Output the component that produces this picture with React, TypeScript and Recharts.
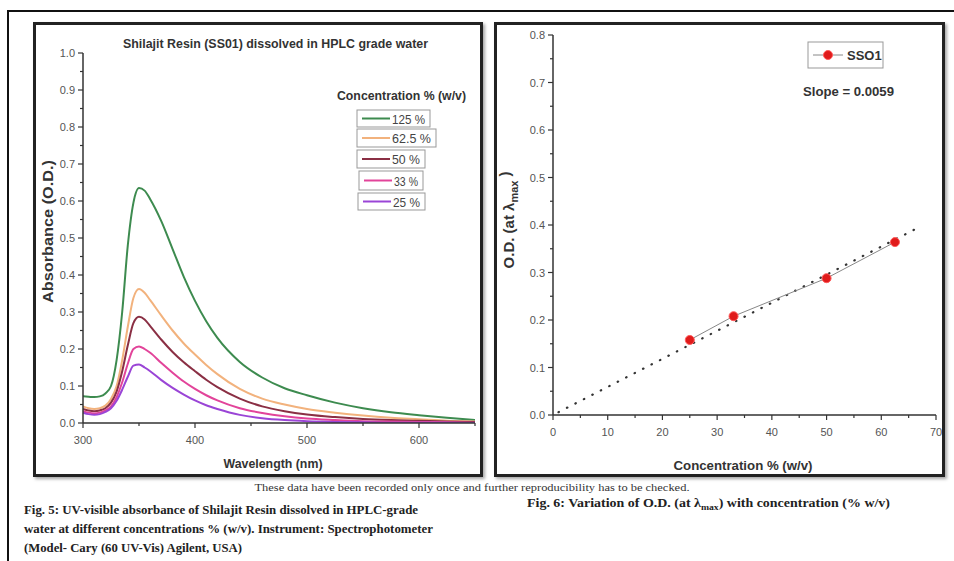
import React from 'react';
import { LineChart, Line, XAxis, YAxis } from 'recharts';

// ---------- Fig. 5 data (UV-vis spectra) ----------
const wavelengths = [300, 305, 310, 315, 320, 325, 330, 335, 340, 345, 350, 355, 360, 370, 380, 390, 400, 410, 420, 440, 460, 480, 500, 525, 550, 575, 600, 625, 650];
const abs125 = [0.072, 0.071, 0.070, 0.072, 0.080, 0.100, 0.170, 0.300, 0.480, 0.595, 0.635, 0.628, 0.605, 0.545, 0.470, 0.395, 0.330, 0.275, 0.230, 0.165, 0.123, 0.094, 0.075, 0.055, 0.040, 0.029, 0.021, 0.014, 0.008];
const abs62 = [0.045, 0.040, 0.038, 0.040, 0.047, 0.065, 0.100, 0.170, 0.260, 0.338, 0.362, 0.352, 0.332, 0.290, 0.250, 0.215, 0.185, 0.157, 0.132, 0.092, 0.066, 0.050, 0.038, 0.028, 0.020, 0.014, 0.010, 0.006, 0.004];
const abs50 = [0.038, 0.034, 0.032, 0.034, 0.040, 0.055, 0.085, 0.140, 0.210, 0.270, 0.287, 0.280, 0.262, 0.225, 0.192, 0.164, 0.140, 0.117, 0.097, 0.066, 0.045, 0.032, 0.023, 0.016, 0.011, 0.008, 0.006, 0.004, 0.003];
const abs33 = [0.032, 0.028, 0.026, 0.028, 0.034, 0.045, 0.070, 0.110, 0.160, 0.200, 0.207, 0.200, 0.190, 0.162, 0.136, 0.112, 0.092, 0.075, 0.061, 0.040, 0.027, 0.018, 0.012, 0.008, 0.005, 0.004, 0.003, 0.002, 0.001];
const abs25 = [0.028, 0.024, 0.022, 0.024, 0.030, 0.040, 0.060, 0.090, 0.125, 0.155, 0.158, 0.150, 0.140, 0.116, 0.095, 0.077, 0.061, 0.048, 0.038, 0.022, 0.013, 0.008, 0.005, 0.003, 0.002, 0.001, 0.001, 0.001, 0.000];
const seriesNames = ['125 %', '62.5 %', '50 %', '33 %', '25 %'];
const seriesKeys = ['c125', 'c62', 'c50', 'c33', 'c25'];
const seriesValues = [abs125, abs62, abs50, abs33, abs25];
const leftXTicks = [300, 350, 400, 450, 500, 550, 600, 650];
const leftYTicks = [0, 0.05, 0.1, 0.15, 0.2, 0.25, 0.3, 0.35, 0.4, 0.45, 0.5, 0.55, 0.6, 0.65, 0.7, 0.75, 0.8, 0.85, 0.9, 0.95, 1.0];

// ---------- Fig. 6 data (O.D. vs concentration) ----------
const concentrations = [25, 33, 50, 62.5];
const odValues = [0.158, 0.208, 0.288, 0.364];
const fitX = [1, 66];
const fitY = [0.006, 0.39];
const rightXTicks = [0, 5, 10, 15, 20, 25, 30, 35, 40, 45, 50, 55, 60, 65, 70];
const rightYTicks = [0, 0.05, 0.1, 0.15, 0.2, 0.25, 0.3, 0.35, 0.4, 0.45, 0.5, 0.55, 0.6, 0.65, 0.7, 0.75, 0.8];

// ---------- styles ----------
const seriesColors = ['#3d8b4f', '#f2b27d', '#8a2f44', '#e2449a', '#9a45d6'];
const legendBoxes = [
  { x: 357, y: 110, w: 73, h: 17 },
  { x: 357, y: 129, w: 79, h: 18 },
  { x: 357, y: 150, w: 68, h: 18 },
  { x: 359, y: 171, w: 64, h: 19 },
  { x: 358, y: 193, w: 67, h: 17 },
];
const SANS = "'Liberation Sans', Arial, sans-serif";
const NARROW = "'Liberation Sans Narrow', 'Liberation Sans', Arial, sans-serif";
const SERIF = "'Liberation Serif', 'Times New Roman', serif";
const AXIS = '#333';
const TICKTXT = '#555';

const spectraData = wavelengths.map((w, i) => {
  const row: any = { w };
  seriesKeys.forEach((k, j) => { row[k] = seriesValues[j][i]; });
  return row;
});
const pointData = concentrations.map((x, i) => ({ x, y: odValues[i] }));
const fitData = fitX.map((x, i) => ({ x, y: fitY[i] }));

const isMajor = (v: number, step: number) => Math.abs(v / step - Math.round(v / step)) < 1e-6;

const makeYTick = (step: number, digits: number) => (props: any) => {
  const { x, y, payload } = props;
  const v = payload.value as number;
  const major = isMajor(v, step);
  return (
    <g>
      <line x1={x} x2={x - (major ? 5 : 3)} y1={y} y2={y} stroke={AXIS} strokeWidth={1.2} />
      {major && (
        <text x={x - 8} y={y + 4} textAnchor="end" fontSize={11} fill={TICKTXT} fontFamily={NARROW}>
          {v.toFixed(digits)}
        </text>
      )}
    </g>
  );
};

const makeXTick = (step: number, labelMax: number) => (props: any) => {
  const { x, y, payload } = props;
  const v = payload.value as number;
  const major = isMajor(v, step);
  return (
    <g>
      <line x1={x} x2={x} y1={y} y2={y + (major ? 5 : 3)} stroke={AXIS} strokeWidth={1.2} />
      {major && v <= labelMax && (
        <text x={x} y={y + 21} textAnchor="middle" fontSize={11} fill={TICKTXT} fontFamily={NARROW}>
          {v}
        </text>
      )}
    </g>
  );
};

const panelStyle = (left: number, width: number): React.CSSProperties => ({
  position: 'absolute',
  left,
  top: 22,
  width,
  height: 455,
  border: '3px solid #222',
  boxSizing: 'border-box',
  boxShadow: '2px 2px 3px rgba(0,0,0,0.35)',
  background: '#fff',
});

export default function App() {
  return (
    <div style={{ position: 'absolute', left: 0, top: 0, width: 954, height: 561, background: '#fff', overflow: 'hidden' }}>
      {/* outer frame */}
      <div style={{ position: 'absolute', left: 7, top: 10, width: 947, height: 2, background: '#111' }} />
      <div style={{ position: 'absolute', left: 7, top: 10, width: 2, height: 551, background: '#111' }} />

      {/* panel borders */}
      <div style={panelStyle(33, 450)} />
      <div style={panelStyle(494, 451)} />

      {/* Fig. 5 chart */}
      <div style={{ position: 'absolute', left: 33, top: 22 }}>
        <LineChart width={450} height={455} data={spectraData} margin={{ top: 31, right: 8, bottom: 0, left: 0 }}>
          <XAxis
            dataKey="w"
            type="number"
            domain={[300, 650]}
            ticks={leftXTicks}
            interval={0}
            height={54}
            tickSize={0}
            tickMargin={0}
            tickLine={false}
            tick={makeXTick(100, 600)}
            axisLine={{ stroke: AXIS, strokeWidth: 1.5 }}
            allowDataOverflow
          />
          <YAxis
            type="number"
            domain={[0, 1]}
            ticks={leftYTicks}
            interval={0}
            width={50}
            tickSize={0}
            tickMargin={0}
            tickLine={false}
            tick={makeYTick(0.1, 1)}
            axisLine={{ stroke: AXIS, strokeWidth: 1.5 }}
            allowDataOverflow
          />
          {seriesKeys.map((k, j) => (
            <Line
              key={k}
              dataKey={k}
              name={seriesNames[j]}
              type="monotone"
              stroke={seriesColors[j]}
              strokeWidth={2}
              dot={false}
              isAnimationActive={false}
            />
          ))}
        </LineChart>
      </div>

      {/* Fig. 6 chart */}
      <div style={{ position: 'absolute', left: 494, top: 22 }}>
        <LineChart width={451} height={455} margin={{ top: 13, right: 9, bottom: 0, left: 0 }}>
          <XAxis
            dataKey="x"
            type="number"
            domain={[0, 70]}
            ticks={rightXTicks}
            interval={0}
            height={62}
            tickSize={0}
            tickMargin={0}
            tickLine={false}
            tick={makeXTick(10, 70)}
            axisLine={{ stroke: AXIS, strokeWidth: 1.5 }}
            allowDataOverflow
          />
          <YAxis
            type="number"
            domain={[0, 0.8]}
            ticks={rightYTicks}
            interval={0}
            width={59}
            tickSize={0}
            tickMargin={0}
            tickLine={false}
            tick={makeYTick(0.1, 1)}
            axisLine={{ stroke: AXIS, strokeWidth: 1.5 }}
            allowDataOverflow
          />
          <Line
            data={fitData}
            dataKey="y"
            type="linear"
            stroke="#333"
            strokeWidth={2.2}
            strokeDasharray="0.5 9"
            strokeLinecap="round"
            dot={false}
            isAnimationActive={false}
          />
          <Line
            data={pointData}
            dataKey="y"
            name="SSO1"
            type="linear"
            stroke="#888"
            strokeWidth={1}
            dot={{ r: 4.5, fill: '#e01b1b', stroke: '#ff5a5a', strokeWidth: 1 }}
            isAnimationActive={false}
          />
        </LineChart>
      </div>

      {/* texts and legends */}
      <svg width={954} height={561} style={{ position: 'absolute', left: 0, top: 0, pointerEvents: 'none' }}>
        {/* Fig. 5 texts */}
        <text x={275.5} y={48} textAnchor="middle" fontSize={12} fontWeight="bold" fill="#333" fontFamily={SANS} textLength={305} lengthAdjust="spacingAndGlyphs">
          Shilajit Resin (SS01) dissolved in HPLC grade water
        </text>
        <text x={401.5} y={100} textAnchor="middle" fontSize={12} fontWeight="bold" fill="#333" fontFamily={SANS} textLength={129} lengthAdjust="spacingAndGlyphs">
          Concentration % (w/v)
        </text>
        {seriesNames.map((n, j) => {
          const b = legendBoxes[j];
          const cy = b.y + b.h / 2;
          return (
            <g key={n}>
              <rect x={b.x} y={b.y} width={b.w} height={b.h} fill="#fff" stroke="#999" strokeWidth={1} />
              <line x1={b.x + 5} x2={b.x + 33} y1={cy} y2={cy} stroke={seriesColors[j]} strokeWidth={2} />
              <text x={b.x + 35} y={cy + 5} fontSize={13.5} fill="#444" fontFamily={NARROW} textLength={b.w - 40} lengthAdjust="spacingAndGlyphs">{n}</text>
            </g>
          );
        })}
        <text transform="translate(53,231.5) rotate(-90)" textAnchor="middle" fontSize={14} fontWeight="bold" fill="#333" fontFamily={SANS} textLength={143} lengthAdjust="spacingAndGlyphs">
          Absorbance (O.D.)
        </text>
        <text x={273} y={468} textAnchor="middle" fontSize={13} fontWeight="bold" fill="#333" fontFamily={SANS} textLength={99} lengthAdjust="spacingAndGlyphs">
          Wavelength (nm)
        </text>

        {/* Fig. 6 texts */}
        <rect x={808} y={42} width={75} height={26} fill="#fff" stroke="#999" strokeWidth={1} />
        <line x1={813} x2={843} y1={55} y2={55} stroke="#888" strokeWidth={1} />
        <circle cx={828} cy={55} r={4.5} fill="#e01b1b" stroke="#ff5a5a" strokeWidth={1} />
        <text x={847} y={60} fontSize={13} fontWeight="bold" fill="#333" fontFamily={SANS}>SSO1</text>
        <text x={848.5} y={96} textAnchor="middle" fontSize={13} fontWeight="bold" fill="#333" fontFamily={SANS} textLength={91} lengthAdjust="spacingAndGlyphs">
          Slope = 0.0059
        </text>
        <text transform="translate(514,220) rotate(-90)" textAnchor="middle" fontSize={15} fontWeight="bold" fill="#333" fontFamily={SANS}>
          O.D. (at λ<tspan fontSize={11} dy={4}>max</tspan><tspan dy={-8} dx={4}>)</tspan>
        </text>
        <text x={743} y={470} textAnchor="middle" fontSize={13} fontWeight="bold" fill="#333" fontFamily={SANS} textLength={139} lengthAdjust="spacingAndGlyphs">
          Concentration % (w/v)
        </text>

        {/* captions */}
        <text x={472} y={491} textAnchor="middle" fontSize={10.5} fill="#333" fontFamily={SERIF} textLength={435} lengthAdjust="spacingAndGlyphs">
          These data have been recorded only once and further reproducibility has to be checked.
        </text>
        <text x={24} y={514} fontSize={11.5} fontWeight="bold" fill="#222" fontFamily={SERIF} textLength={394} lengthAdjust="spacingAndGlyphs">
          Fig. 5: UV-visible absorbance of Shilajit Resin dissolved in HPLC-grade
        </text>
        <text x={24} y={533} fontSize={11.5} fontWeight="bold" fill="#222" fontFamily={SERIF} textLength={409} lengthAdjust="spacingAndGlyphs">
          water at different concentrations % (w/v). Instrument: Spectrophotometer
        </text>
        <text x={24} y={552} fontSize={11.5} fontWeight="bold" fill="#222" fontFamily={SERIF} textLength={218} lengthAdjust="spacingAndGlyphs">
          (Model- Cary (60 UV-Vis) Agilent, USA)
        </text>
        <text x={527} y={507} fontSize={11.5} fontWeight="bold" fill="#222" fontFamily={SERIF} textLength={363} lengthAdjust="spacingAndGlyphs">
          Fig. 6: Variation of O.D. (at λ<tspan fontSize={8} dy={3}>max</tspan><tspan dy={-3}>) with concentration (% w/v)</tspan>
        </text>
      </svg>
    </div>
  );
}
